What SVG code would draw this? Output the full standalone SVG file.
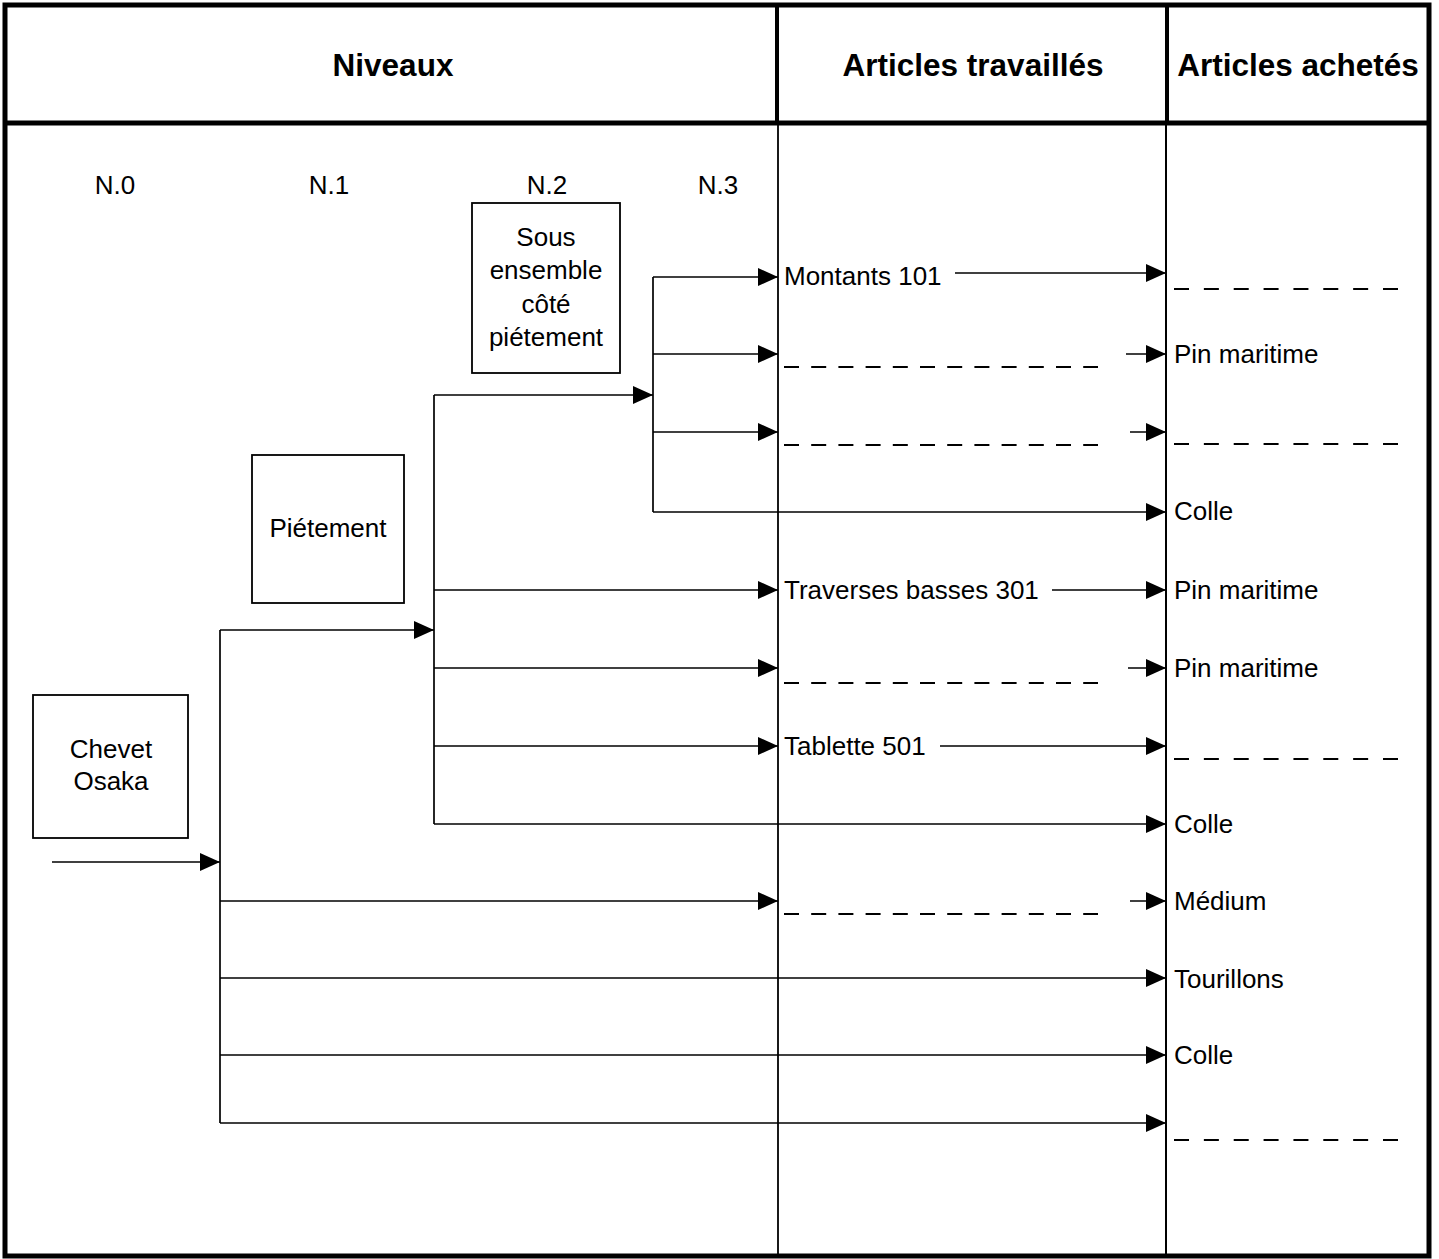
<svg xmlns="http://www.w3.org/2000/svg" width="1439" height="1259" viewBox="0 0 1439 1259">
<defs>
<marker id="arr" viewBox="0 0 20 18" refX="20" refY="9" markerWidth="20" markerHeight="18" markerUnits="userSpaceOnUse" orient="auto">
<path d="M0,0 L20,9 L0,18 z" fill="#000"/>
</marker>
<style>
.t{font-family:"Liberation Sans",Arial,sans-serif;font-size:26px;fill:#000}
.h{font-family:"Liberation Sans",Arial,sans-serif;font-size:31.5px;font-weight:bold;fill:#000}
.c{text-anchor:middle}
.ln{stroke:#000;stroke-width:1.7;fill:none}
.ar{stroke:#000;stroke-width:1.7;fill:none;marker-end:url(#arr)}
.da{stroke:#000;stroke-width:2;fill:none;stroke-dasharray:15 12.2}
.db{stroke:#000;stroke-width:2;fill:none;stroke-dasharray:15 14.86}
.box{fill:#fff;stroke:#000;stroke-width:1.8}
</style>
</defs>
<rect width="1439" height="1259" fill="#fff"/>
<g id="frame">
<rect x="5" y="5" width="1424" height="1251" fill="none" stroke="#000" stroke-width="5"/>
<line x1="5" y1="123" x2="1429" y2="123" stroke="#000" stroke-width="5"/>
<line x1="777" y1="5" x2="777" y2="123" stroke="#000" stroke-width="4"/>
<line x1="1167" y1="5" x2="1167" y2="123" stroke="#000" stroke-width="4"/>
<line x1="778" y1="123" x2="778" y2="1256" stroke="#000" stroke-width="1.8"/>
<line x1="1166" y1="123" x2="1166" y2="1256" stroke="#000" stroke-width="2"/>
</g>
<g id="headers">
<text class="h c" x="393" y="76">Niveaux</text>
<text class="h c" x="973" y="76">Articles travaillés</text>
<text class="h c" x="1298" y="76">Articles achetés</text>
</g>
<g id="levels">
<text class="t c" x="115" y="194">N.0</text>
<text class="t c" x="329" y="194">N.1</text>
<text class="t c" x="547" y="194">N.2</text>
<text class="t c" x="718" y="194">N.3</text>
</g>
<g id="node-sous-ensemble">
<rect class="box" x="472" y="203" width="148" height="170"/>
<text class="t c" x="546" y="246">Sous</text>
<text class="t c" x="546" y="279">ensemble</text>
<text class="t c" x="546" y="313">côté</text>
<text class="t c" x="546" y="346">piétement</text>
</g>
<g id="node-pietement">
<rect class="box" x="252" y="455" width="152" height="148"/>
<text class="t c" x="328" y="537">Piétement</text>
</g>
<g id="node-chevet">
<rect class="box" x="33" y="695" width="155" height="143"/>
<text class="t c" x="111" y="758">Chevet</text>
<text class="t c" x="111" y="790">Osaka</text>
</g>
<g id="connectors">
<line class="ar" x1="52" y1="862" x2="220" y2="862"/>
<line class="ln" x1="220" y1="630" x2="220" y2="1123"/>
<line class="ar" x1="220" y1="630" x2="434" y2="630"/>
<line class="ar" x1="220" y1="901" x2="778" y2="901"/>
<line class="ar" x1="220" y1="978" x2="1166" y2="978"/>
<line class="ar" x1="220" y1="1055" x2="1166" y2="1055"/>
<line class="ar" x1="220" y1="1123" x2="1166" y2="1123"/>
<line class="ln" x1="434" y1="395" x2="434" y2="824"/>
<line class="ar" x1="434" y1="395" x2="653" y2="395"/>
<line class="ar" x1="434" y1="590" x2="778" y2="590"/>
<line class="ar" x1="434" y1="668" x2="778" y2="668"/>
<line class="ar" x1="434" y1="746" x2="778" y2="746"/>
<line class="ar" x1="434" y1="824" x2="1166" y2="824"/>
<line class="ln" x1="653" y1="277" x2="653" y2="512"/>
<line class="ar" x1="653" y1="277" x2="778" y2="277"/>
<line class="ar" x1="653" y1="354" x2="778" y2="354"/>
<line class="ar" x1="653" y1="432" x2="778" y2="432"/>
<line class="ar" x1="653" y1="512" x2="1166" y2="512"/>
<line class="ar" x1="955" y1="273" x2="1166" y2="273"/>
<line class="ar" x1="1126" y1="354" x2="1166" y2="354"/>
<line class="ar" x1="1130" y1="432" x2="1166" y2="432"/>
<line class="ar" x1="1052" y1="590" x2="1166" y2="590"/>
<line class="ar" x1="1128" y1="668" x2="1166" y2="668"/>
<line class="ar" x1="940" y1="746" x2="1166" y2="746"/>
<line class="ar" x1="1130" y1="901" x2="1166" y2="901"/>
</g>
<g id="dashes">
<line class="da" x1="784" y1="367" x2="1098" y2="367"/>
<line class="da" x1="784" y1="445" x2="1098" y2="445"/>
<line class="da" x1="784" y1="683" x2="1098" y2="683"/>
<line class="da" x1="784" y1="914" x2="1098" y2="914"/>
<line class="db" x1="1174" y1="289" x2="1398" y2="289"/>
<line class="db" x1="1174" y1="444" x2="1398" y2="444"/>
<line class="db" x1="1174" y1="759" x2="1398" y2="759"/>
<line class="db" x1="1174" y1="1140" x2="1398" y2="1140"/>
</g>
<g id="articles">
<text class="t" x="784" y="285">Montants 101</text>
<text class="t" x="784" y="599">Traverses basses 301</text>
<text class="t" x="784" y="755">Tablette 501</text>
</g>
<g id="achats">
<text class="t" x="1174" y="363">Pin maritime</text>
<text class="t" x="1174" y="520">Colle</text>
<text class="t" x="1174" y="599">Pin maritime</text>
<text class="t" x="1174" y="677">Pin maritime</text>
<text class="t" x="1174" y="833">Colle</text>
<text class="t" x="1174" y="910">Médium</text>
<text class="t" x="1174" y="988">Tourillons</text>
<text class="t" x="1174" y="1064">Colle</text>
</g>
</svg>
